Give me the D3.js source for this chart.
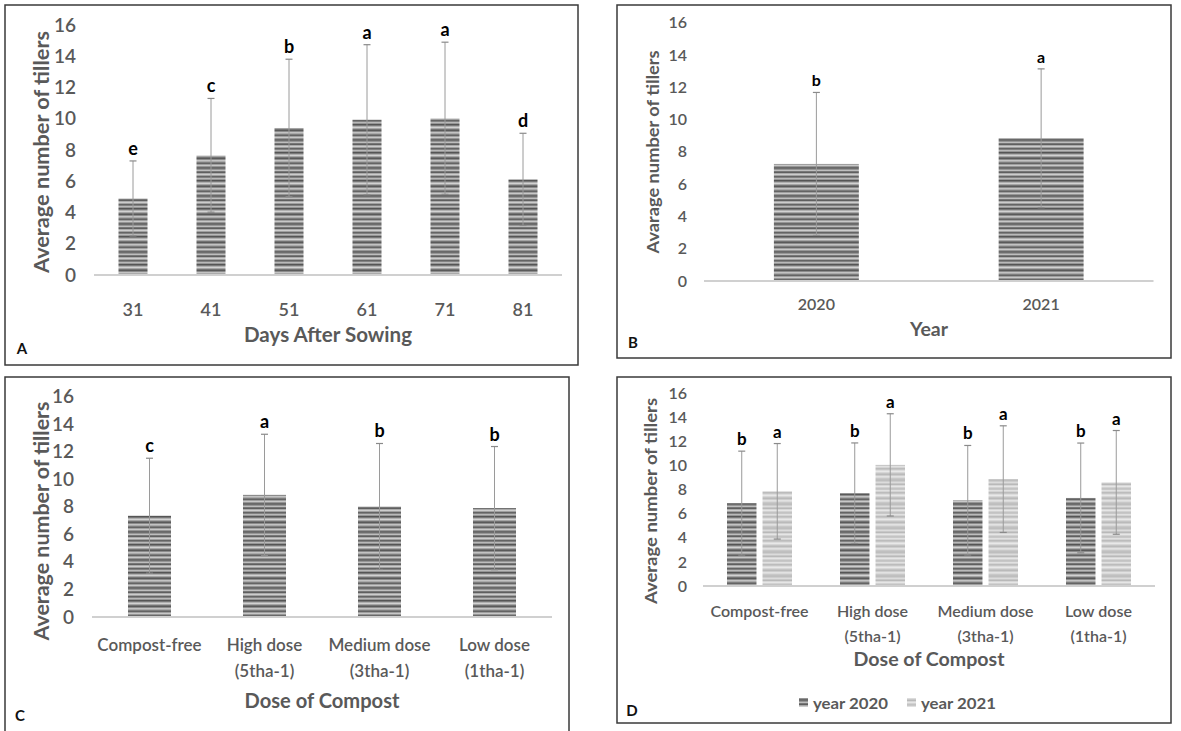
<!DOCTYPE html>
<html><head><meta charset="utf-8">
<script src="https://cdn.jsdelivr.net/npm/d3@7/dist/d3.min.js"></script>
<style>
html,body{margin:0;padding:0;background:#fff;}
svg{display:block;}
text{font-family:Lato,"Open Sans",sans-serif;}
</style></head>
<body>
<svg id="chart" width="1181" height="731"></svg>
<script>
// ---------------- DATA ----------------
const yTicks = [0, 2, 4, 6, 8, 10, 12, 14, 16];

const daysCategories = ["31", "41", "51", "61", "71", "81"];
const daysMeans = [4.9, 7.66, 9.41, 9.94, 10.03, 6.12];
const daysErrors = [2.4, 3.64, 4.4, 4.8, 4.87, 2.95];
const daysLetters = ["e", "c", "b", "a", "a", "d"];

const yearCategories = ["2020", "2021"];
const yearMeans = [7.25, 8.84];
const yearErrors = [4.43, 4.3];
const yearLetters = ["b", "a"];

const doseCategories = ["Compost-free", "High dose\n(5tha-1)", "Medium dose\n(3tha-1)", "Low dose\n(1tha-1)"];
const doseMeans = [7.35, 8.86, 8.02, 7.9];
const doseErrors = [4.17, 4.4, 4.57, 4.47];
const doseLetters = ["c", "a", "b", "b"];

const interSeries = ["year 2020", "year 2021"];
const inter2020Means = [6.87, 7.69, 7.11, 7.30];
const inter2020Errors = [4.31, 4.17, 4.54, 4.55];
const inter2020Letters = ["b", "b", "b", "b"];
const inter2021Means = [7.85, 10.04, 8.86, 8.59];
const inter2021Errors = [3.96, 4.24, 4.42, 4.3];
const inter2021Letters = ["a", "a", "a", "a"];

// ---------------- STYLE ----------------
const GRAY = "#595959";
const svg = d3.select("#chart");
const defs = svg.append("defs");

function stripePattern(id, grays) {
  const p = defs.append("pattern").attr("id", id)
    .attr("patternUnits", "userSpaceOnUse").attr("width", 10).attr("height", grays.length);
  grays.forEach((g, i) => {
    p.append("rect").attr("x", 0).attr("y", i).attr("width", 10).attr("height", 1)
      .attr("fill", d3.rgb(g, g, g).toString());
  });
}
stripePattern("darkStripe", [110, 150, 190, 120, 95, 170, 205, 160, 100, 130, 185, 150, 85, 120, 175, 210, 165, 115, 90, 140, 195, 170, 125, 100, 160, 200, 150, 105]);
stripePattern("lightStripe", [190, 205, 220, 200, 185, 215, 230, 210, 195, 200, 225, 212, 188, 198, 220, 232, 214, 196, 186, 205, 226, 218, 200, 192]);

function frame(x0, y0, x1, y1) {
  svg.append("rect").attr("x", x0).attr("y", y0).attr("width", x1 - x0).attr("height", y1 - y0)
    .attr("fill", "none").attr("stroke", "#3a3a3a").attr("stroke-width", 1.5);
}

function panel(cfg) {
  const g = svg.append("g");
  const y = d3.scaleLinear().domain([0, 16]).range([cfg.y0, cfg.y16]);
  const x = d3.scaleBand().domain(cfg.categories).range([cfg.axX0, cfg.axX1])
    .paddingInner(cfg.pad).paddingOuter(cfg.pad / 2);

  // y tick labels
  const yAxis = d3.axisLeft(y).tickValues(yTicks).tickSize(0).tickPadding(0);
  const ya = g.append("g").attr("transform", `translate(${cfg.tickRight},0)`).call(yAxis);
  ya.select(".domain").remove();
  ya.selectAll("text").attr("fill", GRAY).attr("font-size", cfg.tickFont)
    .attr("font-family", "Lato, sans-serif").attr("font-weight", 600);

  // series
  cfg.series.forEach((s, si) => {
    const off = cfg.sub ? cfg.sub(s.name) : 0;
    const bw = cfg.sub ? cfg.sub.bandwidth() : x.bandwidth();
    const left = c => x(c) + (cfg.sub ? x.bandwidth() / 2 + off : 0);
    const data = cfg.categories.map((c, i) => ({ c, v: s.means[i], e: s.errors[i], l: s.letters[i] }));
    g.selectAll(null).data(data).join("rect")
      .attr("x", d => left(d.c)).attr("y", d => y(d.v))
      .attr("width", bw).attr("height", d => y(0) - y(d.v))
      .attr("fill", `url(#${s.pattern})`);
    const cx = d => left(d.c) + bw / 2;
    g.selectAll(null).data(data).join("line")
      .attr("x1", cx).attr("x2", cx).attr("y1", d => y(d.v + d.e)).attr("y2", d => y(d.v - d.e))
      .attr("stroke", "#9a9a9a").attr("stroke-width", 1);
    ["+", "-"].forEach(sign => {
      g.selectAll(null).data(data).join("line")
        .attr("x1", d => cx(d) - 3.5).attr("x2", d => cx(d) + 3.5)
        .attr("y1", d => y(sign === "+" ? d.v + d.e : d.v - d.e))
        .attr("y2", d => y(sign === "+" ? d.v + d.e : d.v - d.e))
        .attr("stroke", "#8a8a8a").attr("stroke-width", 1.2);
    });
    g.selectAll(null).data(data).join("text")
      .attr("x", cx).attr("y", d => y(d.v + d.e) - 6)
      .attr("text-anchor", "middle").attr("font-size", cfg.letterFont).attr("font-weight", 700)
      .attr("fill", "#000").text(d => d.l);
  });

  // x axis line
  g.append("line").attr("x1", cfg.axX0).attr("x2", cfg.axX1).attr("y1", y(0)).attr("y2", y(0))
    .attr("stroke", "#d0d0d0").attr("stroke-width", 2);

  // x category labels
  cfg.categories.forEach(c => {
    const lines = c.split("\n");
    const t = g.append("text").attr("text-anchor", "middle").attr("fill", GRAY)
      .attr("font-size", cfg.catFont).attr("font-weight", 600);
    lines.forEach((ln, i) => {
      t.append("tspan").attr("x", x(c) + x.bandwidth() / 2)
        .attr("y", cfg.catY + i * cfg.catLine).attr("dominant-baseline", "central").text(ln);
    });
  });

  // axis titles
  g.append("text").attr("transform", `translate(${cfg.yTitle[0]},${cfg.yTitle[1]}) rotate(-90)`)
    .attr("text-anchor", "middle").attr("dominant-baseline", "central")
    .attr("font-size", cfg.yTitleFont).attr("font-weight", 700).attr("fill", GRAY)
    .attr("textLength", cfg.yTitleLen).attr("lengthAdjust", "spacingAndGlyphs")
    .text(cfg.yTitleText);
  g.append("text").attr("x", cfg.xTitle[0]).attr("y", cfg.xTitle[1])
    .attr("text-anchor", "middle").attr("dominant-baseline", "central")
    .attr("font-size", cfg.xTitleFont).attr("font-weight", 700).attr("fill", GRAY)
    .attr("textLength", cfg.xTitleLen).attr("lengthAdjust", "spacingAndGlyphs")
    .text(cfg.xTitleText);
  // panel letter
  g.append("text").attr("x", cfg.tag[0]).attr("y", cfg.tag[1])
    .attr("text-anchor", "middle").attr("dominant-baseline", "central")
    .attr("font-size", 15).attr("font-weight", 700).attr("fill", "#111").text(cfg.tagText);
  return { x, y, g };
}

// frames
frame(5, 5, 578, 365);
frame(617, 5, 1171, 358);
frame(5, 377, 569, 740);
frame(617, 377, 1171, 723);

// Panel A
panel({
  categories: daysCategories, pad: 0.628, axX0: 94, axX1: 562, y0: 275, y16: 25,
  tickRight: 76, tickFont: 19, letterFont: 18, catFont: 18, catY: 309, catLine: 0,
  series: [{ name: "s", means: daysMeans, errors: daysErrors, letters: daysLetters, pattern: "darkStripe" }],
  yTitle: [41, 152], yTitleFont: 20, yTitleLen: 242, yTitleText: "Average number of tillers",
  xTitle: [328, 334], xTitleFont: 20, xTitleLen: 168, xTitleText: "Days After Sowing",
  tag: [22, 348], tagText: "A"
});

// Panel B
panel({
  categories: yearCategories, pad: 0.622, axX0: 704, axX1: 1153.5, y0: 281, y16: 22.7,
  tickRight: 687, tickFont: 16, letterFont: 16, catFont: 16, catY: 303, catLine: 0,
  series: [{ name: "s", means: yearMeans, errors: yearErrors, letters: yearLetters, pattern: "darkStripe" }],
  yTitle: [652, 152], yTitleFont: 17, yTitleLen: 203, yTitleText: "Avarage number of tillers",
  xTitle: [929, 329], xTitleFont: 18, xTitleLen: 38, xTitleText: "Year",
  tag: [633, 342], tagText: "B"
});

// Panel C
panel({
  categories: doseCategories, pad: 0.626, axX0: 92, axX1: 552, y0: 617, y16: 396.5,
  tickRight: 74, tickFont: 19, letterFont: 18, catFont: 17, catY: 644, catLine: 26,
  series: [{ name: "s", means: doseMeans, errors: doseErrors, letters: doseLetters, pattern: "darkStripe" }],
  yTitle: [41, 521], yTitleFont: 20, yTitleLen: 239, yTitleText: "Average number of tillers",
  xTitle: [322, 700], xTitleFont: 20, xTitleLen: 155, xTitleText: "Dose of Compost",
  tag: [20, 715], tagText: "C"
});

// Panel D
const sub = d3.scaleBand().domain(interSeries).range([-32.5, 32.5]).paddingInner(0.17);
panel({
  categories: doseCategories, pad: 0.0, axX0: 703, axX1: 1155, y0: 586, y16: 393,
  tickRight: 687, tickFont: 16, letterFont: 17, catFont: 16, catY: 610, catLine: 25,
  sub: sub,
  series: [
    { name: interSeries[0], means: inter2020Means, errors: inter2020Errors, letters: inter2020Letters, pattern: "darkStripe" },
    { name: interSeries[1], means: inter2021Means, errors: inter2021Errors, letters: inter2021Letters, pattern: "lightStripe" }
  ],
  yTitle: [650, 501], yTitleFont: 17, yTitleLen: 206, yTitleText: "Average number of tillers",
  xTitle: [929, 659], xTitleFont: 18, xTitleLen: 151, xTitleText: "Dose of Compost",
  tag: [632, 710], tagText: "D"
});

// Legend D
const legend = svg.append("g");
const legX = [799, 907];
interSeries.forEach((s, i) => {
  legend.append("rect").attr("x", legX[i]).attr("y", 698).attr("width", 9).attr("height", 9)
    .attr("fill", i === 0 ? "url(#darkStripe)" : "url(#lightStripe)");
  legend.append("text").attr("x", legX[i] + 14).attr("y", 702.5).attr("dominant-baseline", "central")
    .attr("font-size", 16).attr("font-weight", 700).attr("fill", GRAY)
    .attr("textLength", 75).attr("lengthAdjust", "spacingAndGlyphs").text(s);
});
</script>
</body></html>
